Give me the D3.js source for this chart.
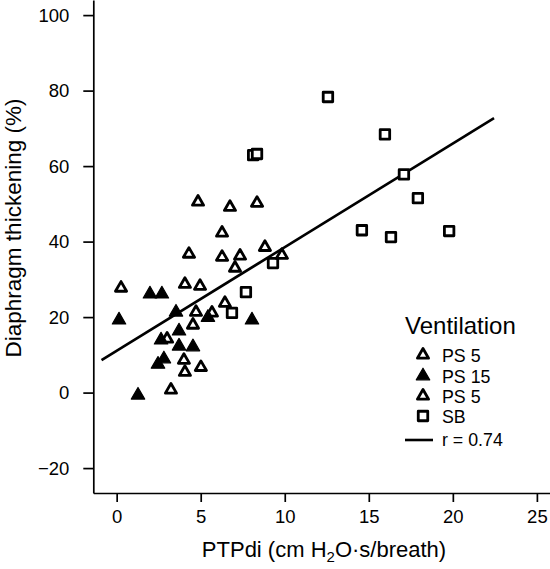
<!DOCTYPE html>
<html>
<head>
<meta charset="utf-8">
<script src="https://cdn.jsdelivr.net/npm/d3@7"></script>
<style>
  html, body { margin: 0; padding: 0; background: #fff; }
  svg { display: block; font-family: "Liberation Sans", Arial, Helvetica, sans-serif; }
</style>
</head>
<body>
<div id="chart"></div>
<script>
// ---- Data ----
const xTicks = [0, 5, 10, 15, 20, 25];
const yTicks = [-20, 0, 20, 40, 60, 80, 100];

// PS 5 (open triangles, first group)
const ps5aX = [0.26, 4.84, 6.74, 8.35, 6.27, 4.30, 6.27, 7.34, 8.82, 9.83, 7.04];
const ps5aY = [27.7, 50.5, 49.1, 50.2, 42.3, 36.7, 35.9, 36.2, 38.5, 36.4, 33.0];
// PS 15 (filled triangles)
const ps15X = [1.98, 2.69, 0.14, 3.53, 5.43, 8.05, 3.71, 2.64, 3.71, 4.54, 2.81, 2.46, 1.27];
const ps15Y = [26.1, 26.1, 19.2, 21.3, 19.9, 19.2, 16.3, 13.9, 12.3, 12.1, 8.9, 7.5, -0.7];
// PS 5 (open triangles, second group)
const ps5bX = [4.06, 4.96, 4.72, 5.67, 4.54, 3.00, 4.00, 4.06, 5.01, 3.23, 6.44];
const ps5bY = [28.7, 28.2, 21.3, 21.1, 17.9, 14.2, 8.6, 5.4, 6.7, 0.7, 23.7];
// SB (open squares)
const sbX = [8.12, 8.35, 12.57, 15.96, 17.09, 17.92, 14.59, 16.32, 19.78, 9.30, 7.69, 6.86];
const sbY = [62.9, 63.2, 78.3, 68.4, 57.8, 51.5, 43.0, 41.2, 42.8, 34.3, 26.6, 21.1];
// Regression line endpoints (r = 0.74)
const fitX = [-0.9, 22.45];
const fitY = [8.6, 72.7];

const legendLabels = ["PS 5", "PS 15", "PS 5", "SB", "r = 0.74"];

// ---- Layout ----
const W = 550, H = 569;
const margin = { left: 93.3, top: 0, right: 0, bottom: 76 };

const svg = d3.select("#chart").append("svg").attr("width", W).attr("height", H);

const x = d3.scaleLinear().domain([-1.39, 25.78]).range([margin.left, W - margin.right]);
const y = d3.scaleLinear().domain([-26.6, 104]).range([H - margin.bottom, margin.top]);

// Axes
const xAxis = d3.axisBottom(x).tickValues(xTicks).tickSize(9).tickPadding(8).tickSizeOuter(0);
const yAxis = d3.axisLeft(y).tickValues(yTicks).tickSize(10).tickPadding(14).tickSizeOuter(0);

const gx = svg.append("g").attr("transform", `translate(0,${H - margin.bottom})`).call(xAxis);
const gy = svg.append("g").attr("transform", `translate(${margin.left},0)`).call(yAxis);
[gx, gy].forEach(g => {
  g.select(".domain").attr("stroke", "#000").attr("stroke-width", 1.7);
  g.selectAll(".tick line").attr("stroke", "#000").attr("stroke-width", 1.7);
  g.selectAll(".tick text").attr("fill", "#000").style("font-size", "18.5px")
    .style("font-family", '"Liberation Sans", Arial, sans-serif');
});

// Axis titles
svg.append("text")
  .attr("transform", `translate(20.5,${228}) rotate(-90)`)
  .attr("text-anchor", "middle")
  .style("font-size", "22.5px")
  .attr("fill", "#000")
  .text("Diaphragm thickening (%)");

const xt = svg.append("text")
  .attr("x", 324).attr("y", 557)
  .attr("text-anchor", "middle")
  .style("font-size", "22px")
  .attr("fill", "#000");
xt.append("tspan").text("PTPdi (cm H");
xt.append("tspan").attr("dy", 5).style("font-size", "15px").text("2");
xt.append("tspan").attr("dy", -5).text("O·s/breath)");

// Regression line
const line = d3.line().x(d => x(d[0])).y(d => y(d[1]));
svg.append("path")
  .datum(d3.zip(fitX, fitY))
  .attr("d", line)
  .attr("fill", "none").attr("stroke", "#000").attr("stroke-width", 2.6);

// Markers
const triOpen = d3.symbol().type(d3.symbolTriangle).size(54)();
const triFill = d3.symbol().type(d3.symbolTriangle).size(78)();
const sq = d3.symbol().type(d3.symbolSquare).size(90)();

function drawSeries(xs, ys, path, fill, sw) {
  svg.append("g").selectAll("path")
    .data(d3.zip(xs, ys))
    .join("path")
    .attr("transform", d => `translate(${x(d[0])},${y(d[1])})`)
    .attr("d", path)
    .attr("fill", fill)
    .attr("stroke", "#000")
    .attr("stroke-width", sw)
    .attr("stroke-linejoin", "round");
}
drawSeries(sbX, sbY, sq, "#fff", 2.8);
drawSeries(ps5aX, ps5aY, triOpen, "#fff", 2.8);
drawSeries(ps5bX, ps5bY, triOpen, "#fff", 2.8);
drawSeries(ps15X, ps15Y, triFill, "#000", 1.2);

// Legend
const lg = svg.append("g");
lg.append("text").attr("x", 405).attr("y", 334).style("font-size", "24px").attr("fill", "#000").text("Ventilation");
const rowsY = [355, 376, 396, 416];
const rowPaths = [triOpen, triFill, triOpen, sq];
const rowFill = ["#fff", "#000", "#fff", "#fff"];
const rowSW = [2.8, 1.2, 2.8, 2.8];
rowsY.forEach((ry, i) => {
  lg.append("path").attr("transform", `translate(423,${ry})`).attr("d", rowPaths[i])
    .attr("fill", rowFill[i]).attr("stroke", "#000").attr("stroke-width", rowSW[i]).attr("stroke-linejoin", "round");
  lg.append("text").attr("x", 442).attr("y", ry + 7).style("font-size", "17.8px").attr("fill", "#000").text(legendLabels[i]);
});
lg.append("line").attr("x1", 405).attr("x2", 433).attr("y1", 440).attr("y2", 440)
  .attr("stroke", "#000").attr("stroke-width", 2.6);
lg.append("text").attr("x", 442).attr("y", 446).style("font-size", "17.8px").attr("fill", "#000").text(legendLabels[4]);
</script>
</body>
</html>
